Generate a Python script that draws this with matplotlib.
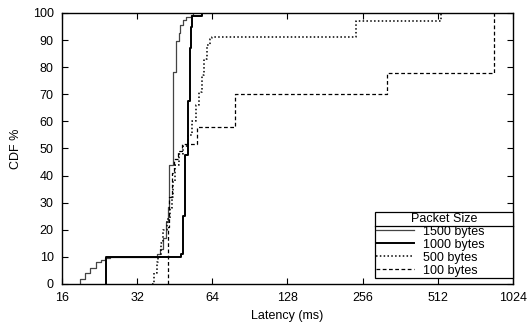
import matplotlib
matplotlib.use("Agg")
import matplotlib.pyplot as plt
from matplotlib.lines import Line2D

plt.rcParams["font.family"] = ["Liberation Sans", "DejaVu Sans"]

# step CDFs: latency (ms) where the CDF jumps, and the level after the jump
lat_1500 = [18.9, 19.8, 20.7, 21.9, 22.9, 23.9, 25.0, 38.6, 39.6, 40.6, 41.6, 42.4, 43.1, 44.7,
            45.9, 46.9, 47.6, 48.8, 50.1, 52.5, 53.8]
cdf_1500 = [2, 4, 6, 8, 9, 9.5, 10, 11, 13, 17, 23, 28.5, 44, 78.4,
            89.5, 92.6, 95.7, 97.5, 98.4, 99.4, 100]

lat_1000 = [24.0, 48.0, 49.0, 49.8, 51.0, 52.0, 52.8, 53.3, 58.3]
cdf_1000 = [10, 11, 25, 47.7, 67.6, 87, 95, 98.8, 100]

lat_500 = [36.6, 37.5, 38.3, 38.9, 39.9, 40.6, 42.0, 43.2, 44.0, 44.7, 45.5, 47.0, 49.0, 51.0,
           53.0, 55.0, 56.5, 58.0, 59.5, 61.0, 62.5, 64.0, 241, 525]
cdf_500 = [0, 4, 8, 10, 15, 20, 24, 28, 32, 38, 44, 48, 51, 55,
           60, 66, 71, 77, 83, 88, 90.5, 91.3, 97, 100]

lat_100 = [42.4, 43.0, 44.0, 45.0, 46.5, 48.5, 55.7, 78.6, 321, 858]
cdf_100 = [21, 32, 41, 46, 49, 51.5, 58, 70, 78, 100]

xticks = [16, 32, 64, 128, 256, 512, 1024]
yticks = list(range(0, 101, 10))

fig = plt.figure(figsize=(5.27, 3.24), dpi=100)
ax = fig.add_axes([0.1176, 0.1235, 0.8558, 0.8365])

def cdf_line(xs, ys, **kw):
    # start from zero on the left edge of the first jump
    ax.step([xs[0]] + xs, [0] + ys, where="post", **kw)

cdf_line(lat_1500, cdf_1500, color="#444444", lw=0.9, label="1500 bytes")
cdf_line(lat_1000, cdf_1000, color="black", lw=1.4, label="1000 bytes")
cdf_line(lat_500, cdf_500, color="black", lw=1.1, ls=(0, (1, 1.5)), label="500 bytes")
cdf_line(lat_100, cdf_100, color="black", lw=0.9, ls=(0, (3, 2)), label="100 bytes")

ax.set_xscale("log", base=2)
ax.set_xlim(16, 1024)
ax.set_ylim(0, 100)
ax.set_xticks(xticks)
ax.set_xticklabels([str(t) for t in xticks])
ax.set_yticks(yticks)
ax.minorticks_off()
ax.tick_params(direction="in", length=4, width=0.8, top=True, right=True, labelsize=9, pad=6)
for s in ax.spines.values():
    s.set_linewidth(1.0)

ax.set_xlabel("Latency (ms)", fontsize=9, labelpad=4)
ax.set_ylabel("CDF %", fontsize=9, labelpad=8)

leg = ax.legend(title="Packet Size", loc="lower left", bbox_to_anchor=(0.694, 0.022, 0.306, 0.24),
                mode="expand", fontsize=9, title_fontsize=9, frameon=True, fancybox=False,
                edgecolor="black", framealpha=1, borderpad=0.1, labelspacing=0.08,
                handlelength=3.0, handletextpad=0.75, borderaxespad=0)
leg.get_frame().set_linewidth(0.9)

# separator line under the legend title
fig.canvas.draw()
fb = leg.get_frame().get_window_extent()
tb = leg.get_title().get_window_extent()
inv = fig.transFigure.inverted()
(x0, yy), = inv.transform([(fb.x0, tb.y0 - 1)])
(x1, _), = inv.transform([(fb.x1, tb.y0 - 1)])
fig.add_artist(Line2D([x0, x1], [yy, yy], color="black", lw=0.9))

fig.savefig("out.png", dpi=100)
